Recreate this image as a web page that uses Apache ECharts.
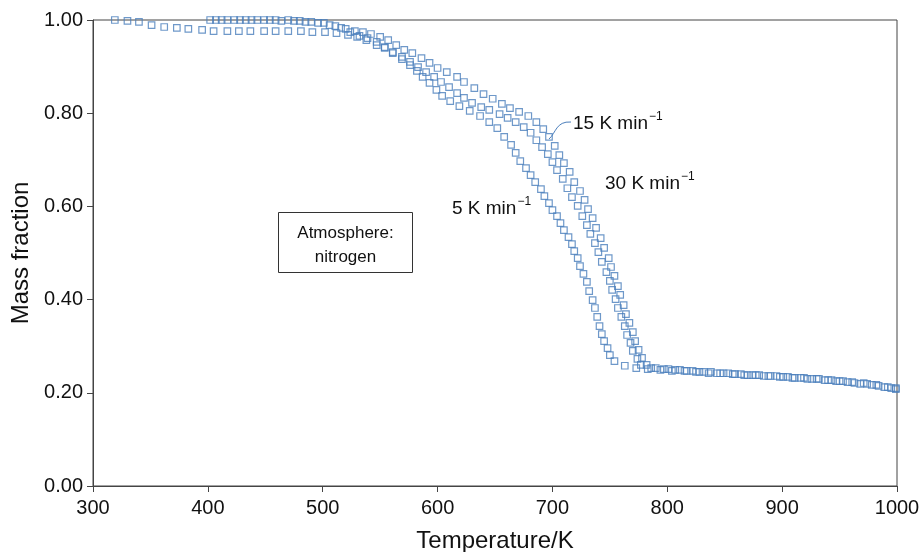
<!DOCTYPE html>
<html>
<head>
<meta charset="utf-8">
<script src="https://cdn.jsdelivr.net/npm/echarts@6/dist/echarts.min.js"></script>
<style>
  html, body { margin: 0; padding: 0; background: #fff; }
  #chart { width: 922px; height: 552px; }
</style>
</head>
<body>
<div id="chart"></div>
<script>
// ---- data: [temperature K, mass fraction] ----
const rate5 = [
  [319,1.000],[330,0.998],[340,0.996],[351,0.989],[362,0.985],[373,0.983],[383,0.981],[395,0.979],
  [405,0.976],[417,0.976],[427,0.976],[437,0.976],[449,0.976],[459,0.976],[470,0.976],[481,0.976],
  [491,0.974],[502,0.974],[512,0.972],[522,0.968],[530,0.964],[538,0.957],[547,0.946],[554,0.940],
  [561,0.929],[569,0.916],[576,0.903],[582,0.891],[587,0.878],[593,0.865],[599,0.850],[604,0.837],
  [611,0.826],[619,0.815],[628,0.805],[637,0.794],[645,0.781],[652,0.768],[658,0.749],[664,0.732],
  [668,0.715],[672,0.697],[677,0.682],[681,0.667],[685,0.652],[690,0.637],[693,0.622],[697,0.607],
  [700,0.592],[704,0.579],[707,0.564],[710,0.549],[714,0.534],[717,0.519],[719,0.504],[722,0.489],
  [724,0.472],[727,0.455],[730,0.438],[732,0.418],[735,0.399],[737,0.382],[739,0.363],[741,0.343],
  [743,0.326],[745,0.311],[748,0.296],[750,0.281],[754,0.268],[763,0.258],[773,0.253],[783,0.251],
  [794,0.249],[804,0.247],[815,0.247],[825,0.245],[836,0.242],[846,0.242],[857,0.240],[867,0.238],
  [877,0.238],[888,0.236],[898,0.234],[909,0.232],[919,0.232],[930,0.230],[940,0.227],[950,0.225],
  [961,0.223],[971,0.221],[982,0.217],[992,0.212],[999,0.210]
];
const rate15 = [
  [402,1.000],[412,1.000],[423,1.000],[433,1.000],[443,1.000],[454,1.000],[464,0.998],[475,0.998],
  [485,0.996],[496,0.994],[506,0.989],[516,0.983],[524,0.974],[532,0.966],[539,0.961],[547,0.953],
  [554,0.942],[561,0.931],[569,0.921],[576,0.910],[583,0.899],[590,0.888],[597,0.878],[603,0.867],
  [610,0.856],[617,0.843],[623,0.833],[630,0.822],[638,0.813],[645,0.807],[654,0.798],[661,0.790],
  [668,0.781],[675,0.770],[681,0.758],[686,0.742],[691,0.727],[696,0.712],[700,0.695],[704,0.678],
  [709,0.659],[713,0.639],[717,0.620],[722,0.601],[726,0.579],[730,0.560],[733,0.541],[737,0.521],
  [740,0.502],[743,0.481],[747,0.459],[750,0.440],[752,0.421],[755,0.401],[757,0.382],[760,0.363],
  [763,0.343],[765,0.324],[768,0.307],[770,0.290],[774,0.273],[777,0.260],[786,0.253],[797,0.251],
  [807,0.249],[817,0.247],[828,0.245],[838,0.245],[849,0.242],[859,0.240],[870,0.238],[880,0.238],
  [890,0.236],[901,0.234],[911,0.232],[922,0.230],[932,0.230],[943,0.227],[953,0.225],[963,0.221],
  [974,0.219],[984,0.215],[995,0.210]
];
const rate30 = [
  [407,1.000],[417,1.000],[428,1.000],[438,1.000],[449,1.000],[459,1.000],[470,1.000],[480,0.998],
  [490,0.996],[501,0.994],[511,0.987],[520,0.981],[528,0.976],[535,0.974],[542,0.970],[550,0.964],
  [557,0.957],[564,0.946],[571,0.936],[578,0.929],[586,0.918],[593,0.908],[600,0.897],[608,0.888],
  [617,0.878],[623,0.867],[632,0.854],[640,0.841],[648,0.831],[656,0.820],[663,0.811],[671,0.803],
  [679,0.794],[686,0.781],[692,0.766],[697,0.749],[702,0.730],[706,0.710],[710,0.693],[715,0.674],
  [719,0.652],[724,0.633],[728,0.614],[731,0.594],[735,0.575],[738,0.554],[742,0.532],[745,0.511],
  [749,0.489],[751,0.470],[754,0.451],[757,0.429],[759,0.410],[762,0.388],[764,0.369],[767,0.350],
  [770,0.330],[772,0.311],[775,0.292],[778,0.275],[782,0.260],[790,0.253],[801,0.251],[811,0.249],
  [822,0.247],[832,0.245],[843,0.242],[853,0.242],[864,0.240],[874,0.238],[884,0.236],[895,0.236],
  [905,0.234],[916,0.232],[926,0.230],[937,0.227],[947,0.225],[957,0.223],[968,0.219],[978,0.217],
  [989,0.212],[999,0.208]
];
const seriesNames = ['5 K min⁻¹', '15 K min⁻¹', '30 K min⁻¹'];
const xTicks = [300, 400, 500, 600, 700, 800, 900, 1000];
const yTicks = [0, 0.2, 0.4, 0.6, 0.8, 1.0];

const FONT = '"Liberation Sans", Arial, Helvetica, sans-serif';
const BLUE = '#4a7ebb';
const chart = echarts.init(document.getElementById('chart'));

function scatter(name, data) {
  return {
    name: name, type: 'scatter', data: data,
    symbol: 'rect', symbolSize: 6.5,
    itemStyle: { color: 'rgba(0,0,0,0)', borderColor: BLUE, borderWidth: 1.2 },
    emphasis: { disabled: true }, silent: true, animation: false
  };
}

function rateLabel(text, x, y) {
  return {
    type: 'text', left: x, top: y, silent: true,
    style: {
      text: '{n|' + text + '}{s|−1}',
      rich: {
        n: { fontSize: 19, fontFamily: FONT, fill: '#111', lineHeight: 22, verticalAlign: 'bottom' },
        s: { fontSize: 12, fontFamily: FONT, fill: '#111', lineHeight: 22, verticalAlign: 'top', padding: [0, 0, 0, 1] }
      }
    }
  };
}

chart.setOption({
  animation: false,
  backgroundColor: '#fff',
  grid: {
    left: 93, right: 25, top: 20, bottom: 66, outerBoundsMode: 'none', containLabel: false,
    show: true, borderColor: '#444', borderWidth: 1, backgroundColor: 'transparent'
  },
  xAxis: {
    type: 'value', min: xTicks[0], max: xTicks[xTicks.length - 1], interval: 100,
    name: 'Temperature/K', nameLocation: 'middle', nameGap: 43,
    nameTextStyle: { fontSize: 24, fontFamily: FONT, color: '#111' },
    axisLine: { show: true, lineStyle: { color: '#444', width: 1 } },
    axisTick: { show: true, length: 6, lineStyle: { color: '#444' } },
    axisLabel: { fontSize: 20, fontFamily: FONT, color: '#111', margin: 12, formatter: v => String(v) },
    splitLine: { show: false }
  },
  yAxis: {
    type: 'value', min: yTicks[0], max: yTicks[yTicks.length - 1], interval: 0.2,
    name: 'Mass fraction', nameLocation: 'middle', nameGap: 59,
    nameTextStyle: { fontSize: 24, fontFamily: FONT, color: '#111' },
    axisLine: { show: true, lineStyle: { color: '#444', width: 1 } },
    axisTick: { show: true, length: 6, lineStyle: { color: '#444' } },
    axisLabel: { fontSize: 20, fontFamily: FONT, color: '#111', margin: 10, formatter: v => v.toFixed(2) },
    splitLine: { show: false }
  },
  series: [scatter(seriesNames[0], rate5), scatter(seriesNames[1], rate15), scatter(seriesNames[2], rate30)],
  graphic: [
    rateLabel('15 K min', 573, 111),
    rateLabel('30 K min', 605, 171),
    rateLabel('5 K min', 452, 196),
    {
      type: 'bezierCurve', silent: true,
      shape: { x1: 571, y1: 122, x2: 549, y2: 139, cpx1: 556, cpy1: 121, cpx2: 556, cpy2: 133 },
      style: { stroke: BLUE, lineWidth: 1, fill: null }
    },
    {
      type: 'rect', silent: true,
      shape: { x: 278.5, y: 212.5, width: 134, height: 60 },
      style: { fill: '#fff', stroke: '#333', lineWidth: 1 }
    },
    {
      type: 'text', silent: true, x: 345.5, y: 233,
      style: { text: 'Atmosphere:', fontSize: 17, fontFamily: FONT, fill: '#111', align: 'center', verticalAlign: 'middle' }
    },
    {
      type: 'text', silent: true, x: 345.5, y: 257,
      style: { text: 'nitrogen', fontSize: 17, fontFamily: FONT, fill: '#111', align: 'center', verticalAlign: 'middle' }
    }
  ]
});
</script>
</body>
</html>
